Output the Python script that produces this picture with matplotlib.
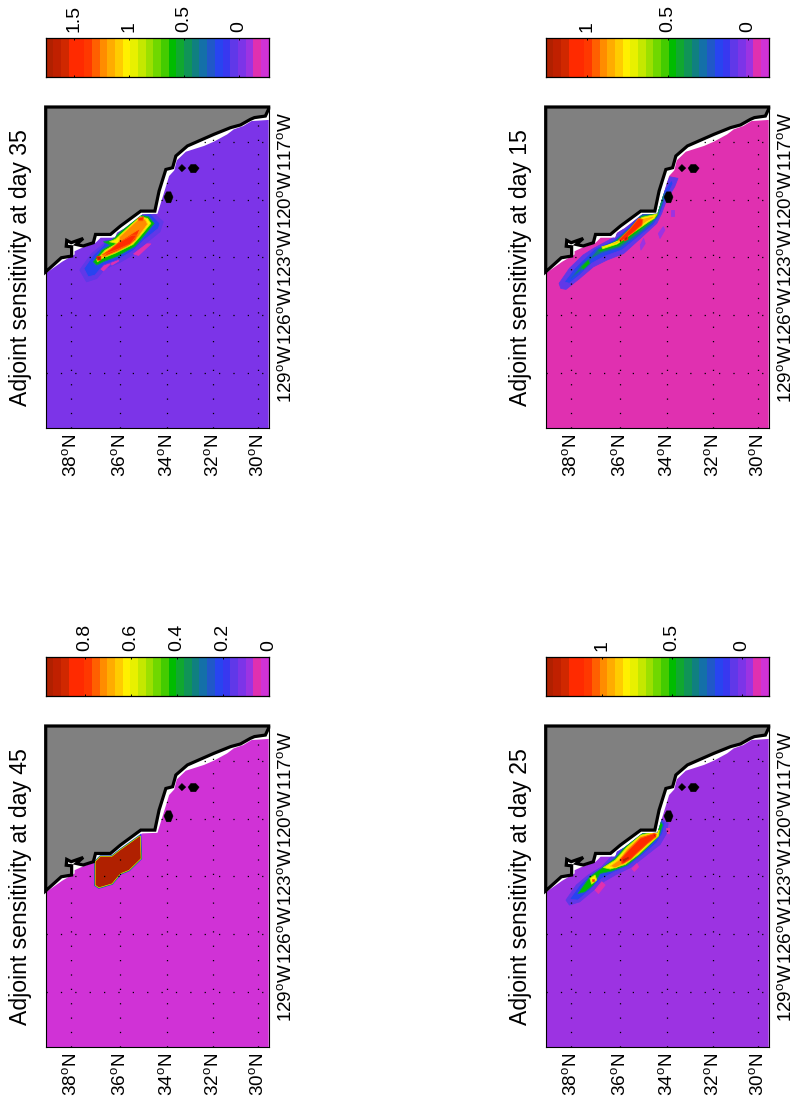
import numpy as np
import matplotlib
matplotlib.use('Agg')
import matplotlib.pyplot as plt
from matplotlib.colors import ListedColormap, BoundaryNorm
from matplotlib.patches import Polygon

plt.rcParams['font.family'] = ['Liberation Sans', 'DejaVu Sans']
plt.rcParams['mathtext.default'] = 'regular'

# colorbar segments, high value first
seg_colors = ['#b02000', '#c02000', '#d02800', '#ff2a00', '#ff2a00', '#ff3800', '#ff6000',
              '#ff8c00', '#ffac00', '#ffcc00', '#fff000', '#e8f000', '#c4e800', '#9ce000',
              '#70d800', '#44cc00', '#00bc00', '#10a830', '#109458', '#108080', '#1470a8',
              '#2058c8', '#2844f0', '#3838f0', '#6038e8', '#7c34e8', '#9c33e2', '#e030b0',
              '#d032d6']

days = [45, 35, 25, 15]
cbar_min = [0.0, -0.27, -0.19, -0.13]
cbar_max = [0.97, 1.757, 1.40, 1.26]
cbar_ticks = [[0, 0.2, 0.4, 0.6, 0.8], [0, 0.5, 1, 1.5], [0, 0.5, 1], [0, 0.5, 1]]
cbar_labels = [['0', '0.2', '0.4', '0.6', '0.8'], ['0', '0.5', '1', '1.5'],
               ['0', '0.5', '1'], ['0', '0.5', '1']]
ocean_value = [0.01, -0.028, -0.052, -0.057]

lat_ticks = [38, 36, 34, 32, 30]
lon_ticks = [-129, -126, -123, -120, -117]
lat_labels = ['38$^{o}$N', '36$^{o}$N', '34$^{o}$N', '32$^{o}$N', '30$^{o}$N']
lon_labels = ['129$^{o}$W', '126$^{o}$W', '123$^{o}$W', '120$^{o}$W', '117$^{o}$W']

# coastline, north to south (lat, lon)
coast = [(39.03, -123.75), (38.4, -123.02), (37.98, -122.93), (37.98, -122.45), (38.2, -122.42),
         (38.18, -122.12), (38.0, -122.24), (37.51, -122.02), (37.79, -122.33), (37.51, -122.41),
         (37.09, -122.24), (37.0, -121.81), (36.38, -121.81), (35.97, -121.38), (35.11, -120.6),
         (34.51, -120.6), (34.33, -119.56), (34.04, -118.44), (33.75, -118.35), (33.61, -117.74),
         (33.11, -117.22), (31.96, -116.62), (31.22, -116.27), (30.78, -116.13), (30.34, -115.84),
         (30.16, -115.75), (29.67, -115.67), (29.52, -115.3)]

# edge of the model ocean, leaves a white gap along the coast
ocean_edge = [(39.03, -123.83), (38.37, -123.23), (37.86, -122.85), (37.86, -122.68), (37.62, -122.54),
              (37.0, -122.24), (36.93, -122.16), (36.79, -121.98), (36.18, -121.98), (36.11, -121.72),
              (35.8, -121.5), (35.04, -120.77), (34.4, -120.74), (34.14, -119.73), (33.9, -118.78),
              (33.68, -118.49), (33.57, -117.97), (33.18, -117.52), (32.39, -117.22), (31.96, -117.0),
              (31.37, -116.62), (31.08, -116.36), (30.66, -116.19), (30.29, -115.93), (29.52, -115.87)]

islands = [[(34.12, -119.87), (34.01, -119.6), (33.83, -119.6), (33.73, -119.87), (33.83, -120.17), (34.01, -120.17)],
           [(33.5, -118.37), (33.35, -118.18), (33.18, -118.37), (33.35, -118.56)],
           [(33.08, -118.37), (32.96, -118.18), (32.75, -118.18), (32.6, -118.37), (32.75, -118.61), (32.96, -118.61)]]

# target box at day 45
day45_box = [(37.0, -122.24), (36.79, -121.98), (36.32, -121.98), (35.97, -121.64), (35.14, -120.91),
             (35.11, -122.07), (35.61, -122.67), (35.97, -122.85), (36.32, -123.37), (36.86, -123.57),
             (37.0, -123.45)]

# sensitivity bands (value, outline in lat/lon), low to high
day35_bands = [
    (0.042, [(37.65, -123.66), (37.16, -122.8), (36.74, -122.37), (35.69, -121.5), (34.99, -120.72), (34.64, -120.63),
             (34.15, -121.15), (34.29, -121.67), (34.92, -122.3), (35.34, -122.8), (36.04, -123.3), (36.6, -123.58),
             (36.95, -124.1), (37.37, -124.27)]),
    (-0.168, [(36.81, -123.58), (36.53, -123.28), (36.39, -123.35), (36.67, -123.7)]),
    (-0.168, [(36.39, -123.2), (36.11, -123.05), (36.04, -123.19), (36.32, -123.4)]),
    (-0.168, [(35.41, -122.82), (34.85, -122.3), (34.68, -122.3), (35.2, -122.9)]),
    (0.182, [(37.48, -123.58), (37.09, -122.88), (36.67, -122.37), (36.6, -122.11), (36.25, -122.11), (35.69, -121.59),
             (34.99, -120.81), (34.71, -120.72), (34.29, -121.24), (34.36, -121.5), (34.99, -122.12), (35.41, -122.64),
             (36.11, -123.14), (36.67, -123.4), (37.02, -123.92), (37.3, -124.01)]),
    (0.602, [(37.09, -123.23), (36.74, -122.63), (36.39, -122.37), (36.67, -122.19), (36.32, -122.11), (36.04, -121.76),
             (35.13, -120.81), (34.78, -120.89), (34.54, -121.24), (34.99, -121.9), (35.34, -122.42), (36.11, -122.95),
             (36.67, -123.22), (36.95, -123.4)]),
    (1.022, [(36.95, -123.11), (36.6, -122.63), (36.11, -122.28), (36.42, -122.19), (36.18, -122.07), (35.83, -121.67),
             (35.13, -120.89), (34.82, -120.98), (34.68, -121.24), (35.13, -121.9), (35.44, -122.33), (36.18, -122.78),
             (36.74, -123.06), (36.92, -123.23)]),
    (1.232, [(36.84, -123.06), (36.53, -122.66), (36.04, -122.31), (36.0, -121.93), (35.13, -120.93), (34.92, -121.03),
             (34.82, -121.28), (35.2, -121.92), (35.48, -122.28), (36.18, -122.72), (36.74, -123.0)]),
    (1.372, [(36.67, -122.94), (36.39, -122.63), (36.0, -122.19), (35.48, -121.76), (35.13, -121.5), (35.34, -122.1),
             (35.69, -122.42), (36.11, -122.68), (36.6, -122.94)]),
    (1.442, [(36.74, -122.88), (36.39, -122.59), (36.04, -122.24), (35.48, -121.85), (35.27, -121.85), (35.55, -122.3),
             (36.11, -122.6)]),
    (1.442, [(35.24, -120.98), (34.99, -120.89), (35.02, -121.1), (35.19, -121.1)]),
    (1.652, [(36.95, -122.97), (36.78, -122.94), (36.78, -123.14), (36.92, -123.14)]),
]

day25_bands = [
    (0.057, [(38.21, -124.23), (37.79, -123.45), (37.3, -122.93), (36.74, -122.5), (36.25, -121.84), (35.83, -121.38),
             (35.13, -120.68), (34.43, -120.46), (34.29, -120.0), (33.94, -120.25), (34.01, -120.77), (34.29, -121.35),
             (34.99, -122.02), (35.55, -122.55), (36.18, -122.93), (36.67, -123.28), (37.16, -123.8), (37.65, -124.32),
             (38.07, -124.49)]),
    (-0.107, [(37.02, -123.71), (36.74, -123.28), (36.6, -123.45), (36.88, -123.89)]),
    (-0.107, [(35.48, -122.6), (35.27, -122.34), (35.2, -122.51), (35.38, -122.74)]),
    (-0.107, [(34.04, -120.51), (33.9, -120.51), (33.9, -120.77), (34.01, -120.77)]),
    (0.167, [(38.07, -124.2), (37.65, -123.45), (37.23, -122.93), (36.74, -122.54), (36.18, -121.95), (35.83, -121.43),
             (35.13, -120.74), (34.5, -120.56), (34.29, -120.0), (34.08, -120.25), (34.18, -120.77), (34.43, -121.26),
             (35.06, -121.93), (35.62, -122.47), (36.25, -122.8), (36.74, -123.11), (37.23, -123.71), (37.72, -124.23)]),
    (0.496, [(37.72, -123.89), (37.23, -123.02), (36.81, -122.64), (36.18, -122.07), (35.76, -121.46), (35.13, -120.8),
             (34.5, -120.6), (34.29, -120.08), (34.18, -120.34), (34.32, -120.86), (34.57, -121.2), (35.13, -121.86),
             (35.69, -122.42), (36.32, -122.72), (36.81, -122.85), (37.09, -123.45), (37.44, -123.8)]),
    (0.825, [(37.23, -123.11), (37.02, -122.93), (36.95, -123.19), (37.16, -123.4)]),
    (0.825, [(36.67, -122.54), (36.18, -122.16), (35.72, -121.52), (35.13, -120.87), (34.5, -120.67), (34.32, -120.6),
             (34.36, -120.91), (34.71, -121.3), (35.2, -121.86), (35.76, -122.38), (36.39, -122.62)]),
    (0.99, [(36.39, -122.47), (36.04, -122.16), (35.69, -121.6), (35.13, -120.94), (34.5, -120.74), (34.4, -120.86),
            (34.78, -121.25), (35.27, -121.82), (35.76, -122.3), (36.18, -122.56)]),
    (1.153, [(35.97, -122.12), (35.62, -121.64), (35.13, -121.03), (34.53, -120.77), (34.46, -120.94), (34.82, -121.3),
             (35.2, -121.72), (35.55, -122.12), (35.9, -122.36)]),
    (1.153, [(37.16, -123.14), (37.08, -123.14), (37.08, -123.26), (37.16, -123.26)]),
    (1.318, [(35.9, -122.12), (35.62, -121.95), (35.58, -122.07), (35.83, -122.29)]),
    (1.318, [(34.57, -120.81), (34.46, -120.81), (34.49, -120.94), (34.57, -120.94)]),
]

day15_bands = [
    (0.0, [(34.36, -121.76), (34.15, -121.41), (34.08, -121.58), (34.29, -122.02)]),
    (0.0, [(33.8, -120.55), (33.7, -120.55), (33.7, -120.86), (33.8, -120.86)]),
    (0.0, [(35.13, -122.36), (34.99, -122.02), (34.92, -122.28), (35.1, -122.62)]),
    (0.086, [(38.49, -124.35), (38.07, -123.57), (37.51, -122.88), (37.09, -122.54), (36.32, -122.02), (35.69, -121.32),
             (35.13, -120.72), (34.43, -120.63), (34.29, -119.85), (34.08, -119.33), (33.87, -118.82), (33.52, -118.9),
             (33.66, -119.33), (34.01, -120.03), (34.22, -120.72), (34.43, -121.24), (35.13, -122.02), (35.83, -122.8),
             (36.53, -123.14), (37.09, -123.49), (37.65, -124.09), (38.21, -124.66), (38.42, -124.61)]),
    (0.182, [(38.28, -124.27), (37.86, -123.57), (37.44, -123.05), (37.02, -122.54), (36.25, -122.1), (35.62, -121.41),
             (35.13, -120.8), (34.46, -120.63), (34.29, -119.94), (34.08, -119.51), (33.8, -118.99), (33.73, -119.16),
             (34.08, -120.03), (34.29, -120.8), (34.57, -121.32), (35.2, -121.93), (35.9, -122.62), (36.6, -122.93),
             (37.16, -123.31), (37.65, -123.92), (38.07, -124.35)]),
    (0.326, [(38.0, -124.09), (37.58, -123.4), (37.16, -122.97), (36.88, -122.54), (36.18, -122.14), (35.55, -121.45),
             (35.1, -120.8), (34.5, -120.72), (34.26, -120.03), (34.08, -119.59), (34.15, -120.11), (34.36, -120.8),
             (34.64, -121.24), (35.24, -121.84), (35.97, -122.48), (36.74, -122.76), (37.16, -123.05), (37.58, -123.66)]),
    (0.47, [(37.58, -123.49), (37.3, -123.14), (37.23, -123.31), (37.51, -123.63)]),
    (0.47, [(36.88, -122.62), (36.18, -122.19), (35.55, -121.5), (35.1, -120.89), (34.54, -120.75), (34.22, -119.77),
            (34.15, -119.72), (34.29, -120.37), (34.43, -120.89), (34.71, -121.2), (35.3, -121.76), (36.04, -122.41),
            (36.81, -122.71)]),
    (0.757, [(36.74, -122.45), (36.11, -122.24), (35.48, -121.55), (35.06, -120.93), (34.57, -120.8), (34.4, -120.72),
             (34.54, -120.98), (34.77, -121.15), (35.38, -121.67), (36.11, -122.31), (36.7, -122.55)]),
    (0.853, [(36.56, -122.41), (35.97, -122.1), (35.44, -121.5), (35.02, -120.98), (34.6, -120.86), (34.54, -120.94),
             (34.85, -121.15), (35.38, -121.62), (36.11, -122.28)]),
    (1.044, [(36.04, -122.1), (35.55, -121.5), (35.2, -120.98), (35.02, -121.03), (35.06, -121.32), (35.48, -121.76),
             (35.9, -122.14)]),
    (1.188, [(35.8, -121.98), (35.66, -121.9), (35.66, -122.07), (35.8, -122.14)]),
]

all_bands = [[], day35_bands, day25_bands, day15_bands]

# panel left and top in pixels (map box), the page is turned on its side
W, H = 794, 1102
panel_x = [45.7, 45.7, 545.7, 545.7]
panel_top = [726, 107, 726, 107]
map_w, map_h = 223, 321
cbar_top = [657, 38, 657, 38]
cbar_h = 39

lat_lim = (39.03, 29.52)
lon_lim = (-131.85, -115.2)


def merc(lat):
    return np.log(np.tan(np.pi / 4 + np.radians(lat) / 2))


def inv_merc(y):
    return np.degrees(2 * np.arctan(np.exp(y)) - np.pi / 2)


def px_axes(x, top, w, h):
    return fig.add_axes([x / W, 1 - (top + h) / H, w / W, h / H])


fig = plt.figure(figsize=(W / 100, H / 100), dpi=100, facecolor='white')

for i, day in enumerate(days):
    edges = np.linspace(cbar_max[i], cbar_min[i], len(seg_colors) + 1)
    norm = BoundaryNorm(edges[::-1], len(seg_colors))
    seg = edges[0] - edges[1]
    # the colormap runs low to high for the norm
    rev_cmap = ListedColormap(seg_colors[::-1])

    ax = px_axes(panel_x[i], panel_top[i], map_w, map_h)
    ax.set_xscale('function', functions=(merc, inv_merc))
    ax.set_xlim(*lat_lim)
    ax.set_ylim(*lon_lim)

    # ocean
    ocean_pts = list(ocean_edge) + [(lat_lim[1], lon_lim[0]), (lat_lim[0], lon_lim[0])]
    ocean = Polygon(ocean_pts, closed=True, facecolor=rev_cmap(norm(ocean_value[i])), edgecolor='none', zorder=1)
    ax.add_patch(ocean)

    # sensitivity field, each band gets a thin rim in a lower colour
    for value, outline in all_bands[i]:
        rim = value - 2 * seg if value > ocean_value[i] + 3 * seg else value
        band = Polygon(outline, closed=True, facecolor=rev_cmap(norm(value)), edgecolor=rev_cmap(norm(rim)),
                       linewidth=0.6, joinstyle='round', zorder=2)
        ax.add_patch(band)
        band.set_clip_path(ocean)
    if day == 45:
        for rim_value, rim_lw in [(0.2, 2.0), (0.4, 1.4), (0.6, 0.8)]:
            ax.add_patch(Polygon(day45_box, closed=True, fill=False, edgecolor=rev_cmap(norm(rim_value)),
                                 linewidth=rim_lw, zorder=2))
        ax.add_patch(Polygon(day45_box, closed=True, facecolor=rev_cmap(norm(0.953)), edgecolor='none', zorder=2))

    # dotted grid
    for lat in lat_ticks:
        ax.plot([lat, lat], lon_lim, color='k', lw=0.9, ls=(0, (1, 10.5)), zorder=3)
    for lon in lon_ticks:
        ax.plot(lat_lim, [lon, lon], color='k', lw=0.9, ls=(0, (1, 10.5)), zorder=3)

    # land with thick outline, runs along the box edge too
    land_pts = list(coast) + [(lat_lim[1], lon_lim[1]), (lat_lim[0], lon_lim[1])]
    ax.add_patch(Polygon(land_pts, closed=True, facecolor='#808080', edgecolor='k', linewidth=2.3,
                         joinstyle='miter', zorder=4, clip_on=False))
    for isl in islands:
        ax.add_patch(Polygon(isl, closed=True, facecolor='k', edgecolor='k', linewidth=0.3, zorder=5))

    ax.xaxis.tick_bottom()
    ax.yaxis.tick_right()
    ax.set_xticks(lat_ticks)
    ax.set_xticklabels(lat_labels, rotation=90, fontsize=13.6, ha='center', va='top')
    ax.set_yticks(lon_ticks)
    ax.set_yticklabels(lon_labels, rotation=90, fontsize=13.6, ha='left', va='center')
    ax.minorticks_off()
    ax.tick_params(axis='x', length=0, pad=4)
    ax.tick_params(axis='y', length=0, pad=6)
    for sp in ax.spines.values():
        sp.set_linewidth(0.8)
    ax.text((21 - panel_x[0]) / map_w, 0.5, 'Adjoint sensitivity at day %d' % day, transform=ax.transAxes,
            rotation=90, ha='center', va='center', fontsize=16.6)

    # colorbar, high end on the left
    cax = px_axes(panel_x[i], cbar_top[i], map_w, cbar_h)
    mids = (edges[:-1] + edges[1:]) / 2
    cax.pcolormesh(edges, [0, 1], mids.reshape(1, -1), cmap=rev_cmap, norm=norm)
    cax.set_xlim(cbar_max[i], cbar_min[i])
    cax.set_yticks([])
    cax.xaxis.tick_top()
    cax.set_xticks(cbar_ticks[i])
    cax.set_xticklabels(cbar_labels[i], rotation=90, fontsize=14, ha='center', va='bottom')
    cax.tick_params(axis='x', top=True, bottom=True, direction='in', length=1.5, width=0.7, pad=4)
    for sp in cax.spines.values():
        sp.set_linewidth(0.9)

fig.savefig('out.png', dpi=100, facecolor='white')
